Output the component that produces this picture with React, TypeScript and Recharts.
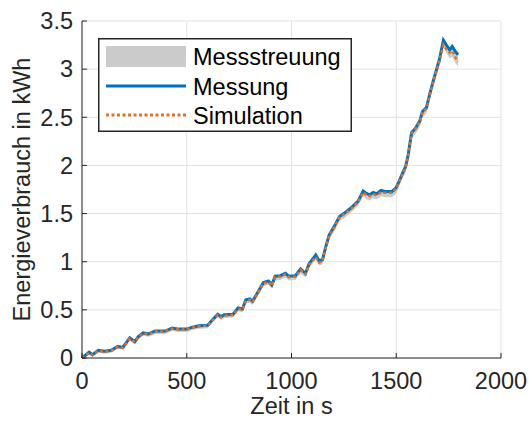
import React from 'react';
import {
  ComposedChart,
  Area,
  Line,
  XAxis,
  YAxis,
  CartesianGrid,
  Legend,
  Label,
} from 'recharts';

// Zeitpunkte in s
const zeit = [
  0, 34, 50, 78, 107, 139, 171, 195, 228, 252,
  268, 292, 317, 349, 397, 430, 462, 500, 527, 559,
  600, 624, 648, 664, 680, 721, 745, 766, 782, 801,
  814, 833, 866, 890, 906, 922, 947, 971, 987, 1019,
  1043, 1067, 1084, 1116, 1132, 1148, 1164, 1180, 1205, 1229,
  1253, 1285, 1318, 1342, 1358, 1374, 1390, 1406, 1427, 1447,
  1479, 1498, 1512, 1528, 1545, 1557, 1573, 1593, 1612, 1625,
  1644, 1661, 1682, 1706, 1725, 1738, 1755, 1767, 1783, 1795,
];

// Gemessener Energieverbrauch in kWh
const messung = [
  0, 0.06, 0.035, 0.08, 0.07, 0.08, 0.12, 0.11, 0.21, 0.17,
  0.22, 0.26, 0.25, 0.28, 0.28, 0.31, 0.3, 0.3, 0.32, 0.335,
  0.34, 0.4, 0.455, 0.43, 0.45, 0.455, 0.52, 0.51, 0.605, 0.615,
  0.59, 0.66, 0.785, 0.8, 0.76, 0.85, 0.855, 0.88, 0.85, 0.855,
  0.925, 0.88, 0.98, 1.07, 1.01, 1.02, 1.16, 1.28, 1.37, 1.47,
  1.505, 1.56, 1.63, 1.735, 1.71, 1.695, 1.72, 1.705, 1.74, 1.73,
  1.73, 1.765, 1.83, 1.91, 1.99, 2.11, 2.34, 2.39, 2.46, 2.56,
  2.6, 2.75, 2.92, 3.1, 3.3, 3.255, 3.2, 3.235, 3.18, 3.15,
];

// Simulierter Energieverbrauch in kWh
const simulation = [
  0, 0.055, 0.03, 0.075, 0.065, 0.075, 0.115, 0.105, 0.2, 0.165,
  0.215, 0.255, 0.245, 0.275, 0.275, 0.305, 0.295, 0.295, 0.315, 0.33,
  0.335, 0.395, 0.445, 0.42, 0.44, 0.445, 0.51, 0.5, 0.595, 0.605,
  0.58, 0.65, 0.775, 0.79, 0.75, 0.84, 0.845, 0.87, 0.84, 0.845,
  0.915, 0.87, 0.97, 1.05, 0.99, 1.005, 1.15, 1.27, 1.36, 1.46,
  1.495, 1.55, 1.62, 1.72, 1.69, 1.68, 1.7, 1.69, 1.72, 1.715,
  1.715, 1.755, 1.82, 1.9, 1.98, 2.1, 2.33, 2.38, 2.45, 2.55,
  2.59, 2.74, 2.91, 3.08, 3.25, 3.21, 3.17, 3.19, 3.12, 3.08,
];

// Streubereich der Messung (Minimum / Maximum) in kWh
const streuungMin = [
  0, 0.035, 0.01, 0.055, 0.045, 0.055, 0.095, 0.085, 0.18, 0.14,
  0.19, 0.23, 0.22, 0.25, 0.25, 0.28, 0.27, 0.27, 0.29, 0.305,
  0.31, 0.37, 0.42, 0.395, 0.415, 0.42, 0.485, 0.475, 0.565, 0.575,
  0.55, 0.62, 0.745, 0.76, 0.72, 0.805, 0.81, 0.835, 0.805, 0.81,
  0.88, 0.835, 0.935, 1.02, 0.96, 0.97, 1.11, 1.23, 1.32, 1.42,
  1.455, 1.51, 1.58, 1.68, 1.65, 1.635, 1.66, 1.645, 1.68, 1.67,
  1.67, 1.705, 1.77, 1.85, 1.93, 2.05, 2.28, 2.33, 2.4, 2.5,
  2.54, 2.69, 2.86, 3.04, 3.23, 3.17, 3.11, 3.13, 3.06, 3.03,
];
const streuungMax = [
  0.01, 0.07, 0.045, 0.09, 0.08, 0.09, 0.13, 0.12, 0.22, 0.18,
  0.23, 0.27, 0.26, 0.29, 0.29, 0.32, 0.31, 0.31, 0.33, 0.345,
  0.35, 0.41, 0.465, 0.44, 0.46, 0.465, 0.53, 0.52, 0.615, 0.625,
  0.6, 0.67, 0.795, 0.81, 0.77, 0.86, 0.865, 0.89, 0.86, 0.865,
  0.935, 0.89, 0.99, 1.08, 1.02, 1.03, 1.17, 1.29, 1.38, 1.48,
  1.515, 1.57, 1.64, 1.745, 1.72, 1.705, 1.73, 1.715, 1.75, 1.74,
  1.74, 1.775, 1.84, 1.92, 2.0, 2.12, 2.35, 2.4, 2.47, 2.57,
  2.61, 2.76, 2.93, 3.11, 3.31, 3.265, 3.21, 3.245, 3.19, 3.16,
];

const xTicks = [0, 500, 1000, 1500, 2000];
const yTicks = [0, 0.5, 1, 1.5, 2, 2.5, 3, 3.5];

const rows = zeit.map((t, i) => ({
  t,
  messung: messung[i],
  simulation: simulation[i],
  streuung: [streuungMin[i], streuungMax[i]],
}));

const FONT = '"Liberation Sans", Arial, Helvetica, sans-serif';
const TEXT = '#262626';
const BLUE = '#0072BD';
const ORANGE = '#E0702A';
const BAND = '#cbcbcb';
const FS = 23.5;

const LegendBox = () => (
  <svg width={254} height={94} style={{ display: 'block' }}>
    <rect x={0.75} y={0.75} width={252.5} height={92.5} fill="#fff" stroke={TEXT} strokeWidth={1.5} />
    <rect x={8} y={8} width={80} height={21} fill={BAND} />
    <line x1={8} x2={88} y1={48} y2={48} stroke={BLUE} strokeWidth={3} />
    <line x1={8} x2={88} y1={77} y2={77} stroke={ORANGE} strokeWidth={3} strokeDasharray="3 2.5" />
    <g fontFamily={FONT} fontSize={FS} fill="#000">
      <text x={95} y={27}>Messstreuung</text>
      <text x={95} y={56.5}>Messung</text>
      <text x={95} y={85.5}>Simulation</text>
    </g>
  </svg>
);

export default function App() {
  return (
    <div style={{ position: 'absolute', left: 0, top: 0, width: 529, height: 421, background: '#fff' }}>
      <ComposedChart
        width={529}
        height={421}
        data={rows}
        margin={{ top: 21, right: 28, bottom: 0, left: 0 }}
        style={{ fontFamily: FONT }}
      >
        <CartesianGrid stroke="#e2e2e2" strokeWidth={1} />
        <XAxis
          dataKey="t"
          type="number"
          domain={[0, 2000]}
          ticks={xTicks}
          interval={0}
          height={63}
          tickSize={-5}
          tickMargin={19}
          axisLine={{ stroke: TEXT, strokeWidth: 1 }}
          tickLine={{ stroke: TEXT }}
          tick={{ fill: TEXT, fontSize: FS, fontFamily: FONT }}
        >
          <Label
            value="Zeit in s"
            position="center"
            dy={16}
            style={{ fill: TEXT, fontSize: FS, fontFamily: FONT }}
          />
        </XAxis>
        <YAxis
          type="number"
          domain={[0, 3.5]}
          ticks={yTicks}
          interval={0}
          width={82}
          tickSize={-5}
          tickMargin={14}
          axisLine={{ stroke: TEXT, strokeWidth: 1 }}
          tickLine={{ stroke: TEXT }}
          tick={{ fill: TEXT, fontSize: FS, fontFamily: FONT }}
        >
          <Label
            value="Energieverbrauch in kWh"
            angle={-90}
            position="center"
            dx={-19}
            style={{ fill: TEXT, fontSize: FS, fontFamily: FONT, textAnchor: 'middle' }}
          />
        </YAxis>
        <Area
          dataKey="streuung"
          type="linear"
          stroke="none"
          fill={BAND}
          fillOpacity={1}
          isAnimationActive={false}
        />
        <Line
          dataKey="messung"
          type="linear"
          stroke={BLUE}
          strokeWidth={3}
          dot={false}
          isAnimationActive={false}
        />
        <Line
          dataKey="simulation"
          type="linear"
          stroke={ORANGE}
          strokeWidth={2.5}
          strokeDasharray="3 2.5"
          dot={false}
          isAnimationActive={false}
        />
        <Legend
          layout="horizontal"
          verticalAlign="middle"
          align="center"
          content={() => <LegendBox />}
          wrapperStyle={{ left: 98, top: 38, width: 254, height: 94 }}
        />
      </ComposedChart>
    </div>
  );
}
